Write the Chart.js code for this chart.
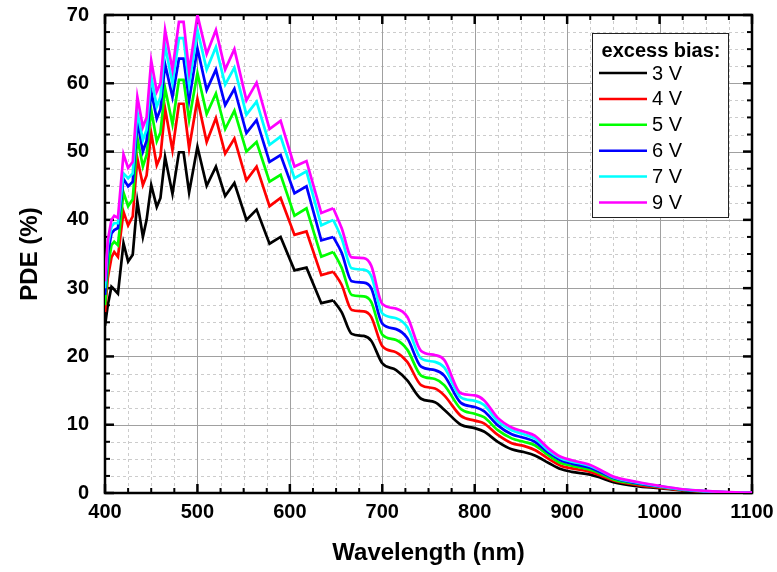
<!DOCTYPE html>
<html>
<head>
<meta charset="utf-8">
<script src="https://cdn.jsdelivr.net/npm/chart.js@4.4.1/dist/chart.umd.min.js"></script>
<style>
  html, body { margin: 0; padding: 0; background: #fff; }
  #wrap { width: 777px; height: 572px; }
</style>
</head>
<body>
<div id="wrap"><canvas id="chart" width="777" height="572"></canvas></div>
<script>
// wavelength grid (nm) at the peaks, dips and shoulders
const wavelengths = [400, 403, 407, 410, 414, 420, 425, 430, 435, 441, 445, 450, 456, 460, 465, 473, 480, 485, 491, 500,
  510, 520, 530, 540, 553, 564, 578, 590, 605, 618, 634, 647, 656, 667, 680, 688, 700, 715, 727, 742,
  757, 767, 785, 800, 810, 825, 840, 853, 865, 880, 893, 905, 925, 937, 950, 975, 1000, 1025, 1050, 1075, 1100];

// PDE (%) per excess bias
const pde3V = [24.5, 27.5, 30.2, 29.8, 29.2, 36.6, 33.9, 34.9, 42.7, 37.5, 40.0, 45.1, 41.9, 43.2, 49.2, 43.8, 49.9, 49.9, 44.0, 50.7,
  45.0, 47.8, 43.5, 45.4, 40.0, 41.5, 36.5, 37.5, 32.6, 33.0, 27.8, 28.2, 26.5, 23.3, 23.0, 22.3, 19.0, 18.0, 16.5, 13.8,
  13.3, 12.2, 10.0, 9.5, 9.0, 7.5, 6.4, 6.0, 5.5, 4.4, 3.5, 3.1, 2.7, 2.2, 1.6, 1.0, 0.7, 0.35, 0.12, 0.03, 0.0];
const pde4V = [26.5, 31.5, 34.5, 35.3, 34.6, 41.2, 39.2, 40.5, 49.0, 45.1, 46.5, 52.7, 48.0, 49.3, 56.3, 50.2, 57.0, 57.0, 50.5, 57.7,
  51.4, 54.9, 49.7, 51.9, 45.8, 47.8, 42.0, 43.2, 37.8, 38.3, 31.9, 32.4, 30.5, 26.8, 26.6, 25.8, 21.5, 20.6, 19.2, 15.8,
  15.3, 14.3, 11.3, 10.6, 10.2, 8.5, 7.3, 6.9, 6.3, 5.0, 4.0, 3.6, 3.1, 2.5, 1.85, 1.2, 0.8, 0.42, 0.18, 0.05, 0.01];
const pde5V = [27.5, 33.0, 36.3, 36.8, 36.3, 44.0, 42.0, 43.0, 52.0, 47.8, 49.5, 56.1, 51.5, 52.8, 59.3, 54.0, 60.5, 60.5, 54.6, 61.5,
  55.5, 58.5, 53.3, 56.0, 50.0, 51.4, 45.6, 46.6, 40.6, 41.7, 34.6, 35.3, 33.0, 29.0, 28.8, 28.0, 23.2, 22.4, 21.0, 17.2,
  16.7, 15.8, 12.3, 11.6, 11.1, 9.2, 8.0, 7.5, 7.0, 5.5, 4.4, 4.0, 3.4, 2.8, 2.0, 1.35, 0.9, 0.47, 0.22, 0.08, 0.02];
const pde6V = [29.0, 35.0, 38.0, 38.5, 38.8, 46.0, 44.9, 45.6, 54.4, 50.0, 51.6, 58.8, 54.8, 56.2, 62.8, 58.0, 63.6, 63.6, 57.5, 65.1,
  59.0, 62.0, 56.8, 59.2, 52.7, 54.6, 48.5, 49.5, 43.9, 44.9, 37.0, 37.5, 35.2, 31.0, 30.8, 30.0, 24.8, 24.0, 22.7, 18.5,
  18.0, 17.2, 13.2, 12.6, 12.0, 9.9, 8.6, 8.1, 7.5, 5.9, 4.8, 4.3, 3.7, 3.0, 2.2, 1.45, 0.95, 0.5, 0.25, 0.1, 0.03];
const pde7V = [30.0, 36.3, 39.0, 39.5, 39.5, 46.8, 46.1, 46.8, 55.8, 51.7, 53.2, 61.0, 56.6, 58.0, 65.5, 60.0, 66.6, 66.6, 59.8, 67.8,
  62.0, 65.3, 59.8, 62.3, 55.4, 57.3, 51.0, 52.2, 46.1, 47.1, 39.2, 40.0, 37.3, 32.9, 32.7, 31.8, 26.3, 25.6, 24.3, 19.7,
  19.2, 18.4, 14.0, 13.5, 12.9, 10.5, 9.2, 8.6, 8.0, 6.2, 5.1, 4.6, 3.95, 3.2, 2.3, 1.55, 1.0, 0.52, 0.28, 0.11, 0.04];
const pde9V = [31.0, 37.0, 40.0, 40.6, 40.3, 49.6, 47.6, 48.5, 58.0, 53.6, 55.0, 63.3, 58.8, 60.0, 67.8, 62.0, 69.0, 69.0, 61.7, 70.0,
  64.3, 67.8, 62.0, 65.0, 57.5, 60.1, 53.3, 54.5, 47.8, 48.6, 41.0, 41.7, 38.8, 34.5, 34.4, 33.3, 27.7, 27.0, 25.8, 20.8,
  20.2, 19.5, 14.6, 14.3, 13.6, 11.0, 9.6, 9.0, 8.4, 6.5, 5.3, 4.8, 4.1, 3.3, 2.4, 1.65, 1.05, 0.55, 0.3, 0.12, 0.05];

const biasLabels = ['3 V', '4 V', '5 V', '6 V', '7 V', '9 V'];
const biasColors = ['#000000', '#ff0000', '#00ff00', '#0000ff', '#00ffff', '#ff00ff'];
const series = [pde3V, pde4V, pde5V, pde6V, pde7V, pde9V];

// the blue end is a sharp zigzag, the red end a smooth ripple
const SPLIT = wavelengths.indexOf(647);

const FONT = "'Liberation Sans', Arial, sans-serif";

function line(ctx, x1, y1, x2, y2) {
  ctx.beginPath();
  ctx.moveTo(x1, y1);
  ctx.lineTo(x2, y2);
  ctx.stroke();
}

// dashed minor grid, solid major grid, black frame with inward ticks, boxed legend
const framePlugin = {
  id: 'frame',
  beforeDatasetsDraw(chart) {
    const { ctx, chartArea: a, scales: { x, y } } = chart;
    ctx.save();
    ctx.lineWidth = 1;
    ctx.strokeStyle = '#cccccc';
    ctx.setLineDash([3, 3]);
    for (let v = 425; v < 1100; v += 25) {
      if (v % 100 === 0) continue;
      const px = Math.round(x.getPixelForValue(v)) + 0.5;
      line(ctx, px, a.top, px, a.bottom);
    }
    for (let v = 2.5; v < 70; v += 2.5) {
      if (v % 10 === 0) continue;
      const py = Math.round(y.getPixelForValue(v)) + 0.5;
      line(ctx, a.left, py, a.right, py);
    }
    ctx.setLineDash([]);
    ctx.strokeStyle = '#a0a0a0';
    for (let v = 500; v < 1100; v += 100) {
      const px = Math.round(x.getPixelForValue(v)) + 0.5;
      line(ctx, px, a.top, px, a.bottom);
    }
    for (let v = 10; v < 70; v += 10) {
      const py = Math.round(y.getPixelForValue(v)) + 0.5;
      line(ctx, a.left, py, a.right, py);
    }

    // ticks, pointing inward on all four sides
    ctx.strokeStyle = '#000';
    for (let v = 400; v <= 1100; v += 25) {
      const major = v % 100 === 0;
      const len = major ? 9 : 5;
      ctx.lineWidth = major ? 2.5 : 2;
      const px = x.getPixelForValue(v);
      line(ctx, px, a.bottom, px, a.bottom - len);
      line(ctx, px, a.top, px, a.top + len);
    }
    for (let v = 0; v <= 70; v += 2.5) {
      const major = v % 10 === 0;
      const len = major ? 9 : 5;
      ctx.lineWidth = major ? 2.5 : 2;
      const py = y.getPixelForValue(v);
      line(ctx, a.left, py, a.left + len, py);
      line(ctx, a.right, py, a.right - len, py);
    }
    ctx.lineWidth = 2.5;
    ctx.strokeRect(a.left, a.top, a.right - a.left, a.bottom - a.top);
    ctx.restore();
  },
  afterDatasetsDraw(chart) {
    const { ctx } = chart;
    ctx.save();
    // legend
    const lx = 592, ly = 33, lw = 136, lh = 184;
    ctx.fillStyle = '#fff';
    ctx.fillRect(lx, ly, lw, lh);
    ctx.lineWidth = 1;
    ctx.strokeStyle = '#222';
    ctx.strokeRect(lx + 0.5, ly + 0.5, lw, lh);
    ctx.fillStyle = '#000';
    ctx.textBaseline = 'middle';
    ctx.textAlign = 'center';
    ctx.font = 'bold 20px ' + FONT;
    ctx.fillText('excess bias:', lx + lw / 2 + 1, 51);
    ctx.textAlign = 'left';
    ctx.font = '20px ' + FONT;
    biasLabels.forEach((label, i) => {
      const yy = 73 + i * 25.9;
      ctx.strokeStyle = biasColors[i];
      ctx.lineWidth = 2.5;
      line(ctx, 599, yy, 647, yy);
      ctx.fillStyle = '#000';
      ctx.fillText(label, 652, yy + 1);
    });
    ctx.restore();
  }
};

const datasets = [];
series.forEach((vals, i) => {
  const pts = wavelengths.map((w, j) => ({ x: w, y: vals[j] }));
  const common = {
    label: biasLabels[i],
    borderColor: biasColors[i],
    backgroundColor: biasColors[i],
    borderWidth: 2.7,
    pointRadius: 0,
    order: series.length - i
  };
  datasets.push(Object.assign({}, common, { data: pts.slice(0, SPLIT + 1), tension: 0 }));
  datasets.push(Object.assign({}, common, { data: pts.slice(SPLIT), cubicInterpolationMode: 'monotone' }));
});

new Chart(document.getElementById('chart'), {
  type: 'line',
  data: { datasets },
  options: {
    responsive: false,
    animation: false,
    devicePixelRatio: 1,
    layout: { padding: { top: 15, right: 25, left: 0, bottom: 0 } },
    plugins: { legend: { display: false }, tooltip: { enabled: false } },
    scales: {
      x: {
        type: 'linear',
        min: 400,
        max: 1100,
        grid: { display: false, drawTicks: false, tickLength: 0 },
        border: { display: false },
        ticks: { stepSize: 100, color: '#000', padding: 7, maxRotation: 0, callback: v => String(v), font: { family: FONT, size: 20, weight: 'bold' } },
        title: { display: true, text: 'Wavelength (nm)', color: '#000', padding: { top: 0, bottom: 4 }, font: { family: FONT, size: 24, weight: 'bold' } },
        afterFit(scale) { scale.height = 79; scale.paddingLeft = 0; scale.paddingRight = 0; }
      },
      y: {
        min: 0,
        max: 70,
        grid: { display: false, drawTicks: false, tickLength: 0 },
        border: { display: false },
        ticks: { stepSize: 10, color: '#000', padding: 16, callback: v => String(v), font: { family: FONT, size: 20, weight: 'bold' } },
        title: { display: true, text: 'PDE (%)', color: '#000', padding: { top: 16, bottom: 0 }, font: { family: FONT, size: 24, weight: 'bold' } },
        afterFit(scale) { scale.width = 105; scale.paddingTop = 0; scale.paddingBottom = 0; }
      }
    }
  },
  plugins: [framePlugin]
});
</script>
</body>
</html>
